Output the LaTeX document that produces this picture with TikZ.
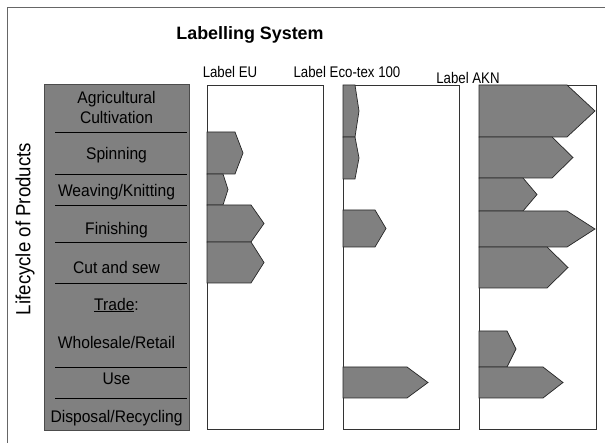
\documentclass[tikz,border=0pt]{standalone}
\usepackage{fontspec}
\setmainfont{Liberation Sans}
\begin{document}
\begin{tikzpicture}[x=1pt,y=-1pt,
  rowtext/.style={font=\fontsize{16.8}{20}\selectfont, xscale=0.93, text=black, align=center, inner sep=0pt},
  coltext/.style={font=\fontsize{15.4}{18}\selectfont, xscale=0.86, text=black, inner sep=0pt},
  lanebox/.style={draw=black!80, line width=0.8pt, fill=white},
  stage/.style={fill=black!50, draw=black!85, line width=0.7pt, line join=miter},
  sep/.style={draw=black, line width=0.8pt}]
\useasboundingbox (0,0) rectangle (605,443);
% outer frame (top and left edges)
\draw[black!60, line width=0.9pt] (7,443) -- (7,7) -- (605,7);
% heading
\node[font=\fontsize{17.9}{20}\selectfont\bfseries, text=black, inner sep=0pt] (title) at (250,35) {Labelling System};
% vertical axis label
\node[rotate=90, xscale=0.91, font=\fontsize{20.5}{23}\selectfont, text=black, inner sep=0pt] (axis) at (25,229) {Lifecycle of Products};
% lifecycle column
\node[fill=black!50, draw=black!70, line width=0.6pt, minimum width=145pt, minimum height=346pt, inner sep=0pt, anchor=north west] (col) at (44,84) {};
\foreach \yy in {132,174,205,242,283,367,398}
  \draw[sep] (55,\yy) -- (187,\yy);
\node[rowtext] (agri) at (116.5,107.5) {Agricultural\\Cultivation};
\node[rowtext] (spin) at (116.5,155) {Spinning};
\node[rowtext] (weave) at (116.5,192) {Weaving/Knitting};
\node[rowtext] (finish) at (116.5,230) {Finishing};
\node[rowtext] (cut) at (116.5,267) {Cut and sew};
\node[rowtext] (trade) at (116.5,305) {\underline{Trade}:};
\node[rowtext] (whole) at (116.5,342) {Wholesale/Retail};
\node[rowtext] (use) at (116.5,379) {Use};
\node[rowtext] (disp) at (116.5,418) {Disposal/Recycling};
% label lanes
\node[lanebox, minimum width=116pt, minimum height=344pt, anchor=north west, inner sep=0pt] (eu) at (207,85) {};
\node[lanebox, minimum width=116pt, minimum height=344pt, anchor=north west, inner sep=0pt] (eco) at (343,85) {};
\node[lanebox, minimum width=117pt, minimum height=344pt, anchor=north west, inner sep=0pt] (akn) at (479,85) {};
\node[coltext] (euhead) at (230,72) {Label EU};
\node[coltext] (ecohead) at (347,72) {Label Eco-tex 100};
\node[coltext] (aknhead) at (468,78) {Label AKN};
% coverage arrows: x0, flat end, tip, top, bottom
\newcommand{\coverage}[5]{%
  \draw[stage] (#1,#4) -- (#2,#4) -- (#3,{(#4+#5)/2}) -- (#2,#5) -- (#1,#5) -- cycle;}
% Label EU
\coverage{207}{235}{243}{132}{174}
\coverage{207}{223}{228}{174}{205}
\coverage{207}{251}{264}{205}{242}
\coverage{207}{251}{264}{242}{283}
% Label Eco-tex 100
\coverage{343}{355}{359}{85}{137}
\coverage{343}{355}{359}{137}{179}
\coverage{343}{375}{386}{210}{247}
\coverage{343}{407}{428}{367}{398}
% Label AKN
\coverage{479}{567}{595}{85}{137}
\coverage{479}{552}{573}{137}{178}
\coverage{479}{523}{537}{178}{211}
\coverage{479}{567}{595}{211}{247}
\coverage{479}{547}{568}{247}{288}
\coverage{479}{507}{516}{331}{367}
\coverage{479}{543}{563}{367}{398}
\end{tikzpicture}
\end{document}
